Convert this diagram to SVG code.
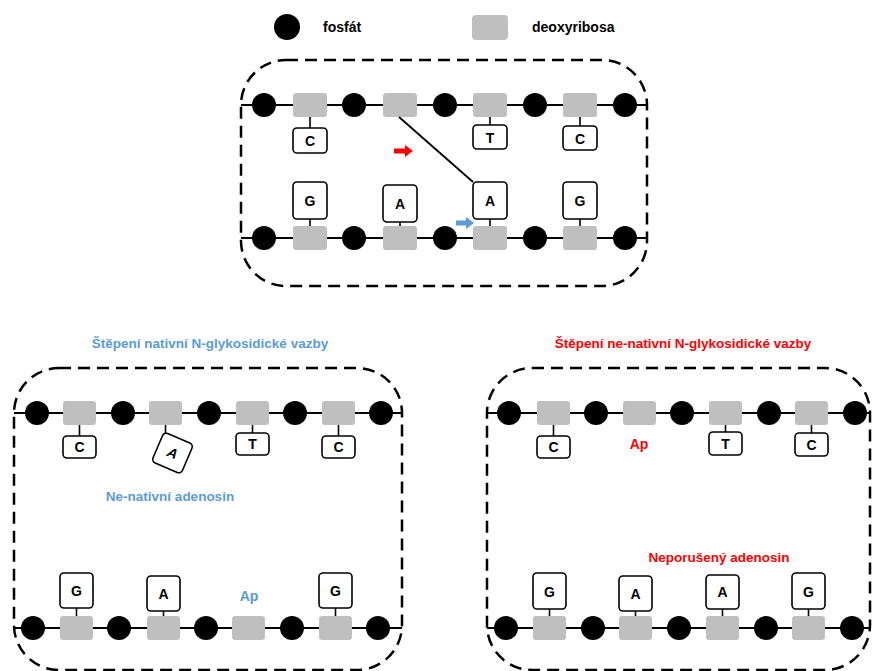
<svg xmlns="http://www.w3.org/2000/svg" width="872" height="671" viewBox="0 0 872 671">
<defs>
<style>
.frame{fill:none;stroke:#000;stroke-width:2.5;stroke-dasharray:12 7}
.strand{stroke:#000;stroke-width:2;fill:none}
.p{fill:#000}
.s{fill:#BFBFBF}
.b{fill:#fff;stroke:#000;stroke-width:1.6}
.stem{stroke:#000;stroke-width:1.6}
.t{font-family:"Liberation Sans",Arial,sans-serif;font-weight:bold;font-size:14px;text-anchor:middle;fill:#000}
.h{font-size:13.5px}
.lg{font-family:"Liberation Sans",Arial,sans-serif;font-weight:bold;font-size:14px;fill:#000}
.blue{fill:#5B9BD5}
.red{fill:#FF0000}
</style>
</defs>

<g id="legend">
<circle class="p" cx="287" cy="27" r="13"/>
<text class="lg" x="323" y="32">fosfát</text>
<rect class="s" x="472" y="15" width="36" height="25" rx="4"/>
<text class="lg" x="532" y="32">deoxyribosa</text>
</g>

<!-- Top panel -->
<g id="panel-top">
<rect class="frame" x="241" y="60" width="406" height="226" rx="45"/>
<line class="strand" x1="241" y1="105" x2="647" y2="105"/>
<line class="strand" x1="241" y1="238" x2="647" y2="238"/>
<g id="top-strand1">
<circle class="p" cx="264" cy="105" r="12"/>
<circle class="p" cx="354" cy="105" r="12"/>
<circle class="p" cx="445" cy="105" r="12"/>
<circle class="p" cx="535" cy="105" r="12"/>
<circle class="p" cx="625" cy="105" r="12"/>
<rect class="s" x="293" y="93" width="34" height="24" rx="3"/>
<rect class="s" x="383" y="93" width="34" height="24" rx="3"/>
<rect class="s" x="473" y="93" width="34" height="24" rx="3"/>
<rect class="s" x="563" y="93" width="34" height="24" rx="3"/>
</g>
<g id="top-strand2">
<circle class="p" cx="264" cy="238" r="12"/>
<circle class="p" cx="354" cy="238" r="12"/>
<circle class="p" cx="445" cy="238" r="12"/>
<circle class="p" cx="535" cy="238" r="12"/>
<circle class="p" cx="625" cy="238" r="12"/>
<rect class="s" x="293" y="226" width="34" height="24" rx="3"/>
<rect class="s" x="383" y="226" width="34" height="24" rx="3"/>
<rect class="s" x="473" y="226" width="34" height="24" rx="3"/>
<rect class="s" x="563" y="226" width="34" height="24" rx="3"/>
</g>
<g id="top-bases1">
<line class="stem" x1="310" y1="117" x2="310" y2="128"/>
<rect class="b" x="293" y="128" width="34" height="25" rx="4"/>
<text class="t" x="310" y="146">C</text>
<line class="stem" x1="490" y1="117" x2="490" y2="125"/>
<rect class="b" x="473" y="125" width="34" height="24" rx="4"/>
<text class="t" x="490" y="142.5">T</text>
<line class="stem" x1="580" y1="117" x2="580" y2="126"/>
<rect class="b" x="563" y="126" width="34" height="24" rx="4"/>
<text class="t" x="580" y="143.5">C</text>
</g>
<g id="top-bases2">
<line class="stem" x1="310" y1="219" x2="310" y2="226"/>
<rect class="b" x="293" y="182" width="34" height="37" rx="4"/>
<text class="t" x="310" y="205.5">G</text>
<line class="stem" x1="400" y1="222" x2="400" y2="226"/>
<rect class="b" x="383" y="185" width="34" height="37" rx="4"/>
<text class="t" x="400" y="208.5">A</text>
<line class="stem" x1="490" y1="219" x2="490" y2="226"/>
<rect class="b" x="473" y="182" width="34" height="37" rx="4"/>
<text class="t" x="490" y="205.5">A</text>
<line class="stem" x1="580" y1="219" x2="580" y2="226"/>
<rect class="b" x="563" y="182" width="34" height="37" rx="4"/>
<text class="t" x="580" y="205.5">G</text>
</g>
</g>

<g id="connectors">
<line x1="399" y1="117" x2="473" y2="182" stroke="#000" stroke-width="1.8"/>
<polygon class="red" points="394,148.5 405,148.5 405,145 413,151 405,157 405,153.5 394,153.5"/>
<polygon class="blue" points="456,220.5 466,220.5 466,217 474,223 466,229 466,225.5 456,225.5"/>
</g>

<!-- Bottom-left panel -->
<g id="panel-left">
<text class="t h blue" x="210" y="348">Štěpení nativní N-glykosidické vazby</text>
<rect class="frame" x="14" y="368" width="388" height="302" rx="45"/>
<line class="strand" x1="14" y1="413" x2="402" y2="413"/>
<line class="strand" x1="14" y1="628" x2="402" y2="628"/>
<g id="left-strand1">
<circle class="p" cx="37" cy="413" r="12"/>
<circle class="p" cx="123" cy="413" r="12"/>
<circle class="p" cx="209" cy="413" r="12"/>
<circle class="p" cx="295" cy="413" r="12"/>
<circle class="p" cx="381" cy="413" r="12"/>
<rect class="s" x="63" y="401" width="33" height="24" rx="3"/>
<rect class="s" x="149" y="401" width="33" height="24" rx="3"/>
<rect class="s" x="236" y="401" width="33" height="24" rx="3"/>
<rect class="s" x="322" y="401" width="33" height="24" rx="3"/>
</g>
<g id="left-bases1">
<line class="stem" x1="79.5" y1="425" x2="79.5" y2="436"/>
<rect class="b" x="63" y="436" width="33" height="22" rx="4"/>
<text class="t" x="79.5" y="452">C</text>
<line class="stem" x1="165.5" y1="425" x2="165.5" y2="433"/>
<g transform="translate(172.5 453) rotate(23)">
<rect class="b" x="-16" y="-16" width="32" height="32" rx="4"/>
<text class="t" x="0" y="5" font-style="italic">A</text>
</g>
<line class="stem" x1="252.5" y1="425" x2="252.5" y2="433"/>
<rect class="b" x="236" y="433" width="33" height="22" rx="4"/>
<text class="t" x="252.5" y="449">T</text>
<line class="stem" x1="338.5" y1="425" x2="338.5" y2="436"/>
<rect class="b" x="322" y="436" width="33" height="22" rx="4"/>
<text class="t" x="338.5" y="452">C</text>
</g>
<text class="t h blue" x="170" y="501">Ne-nativní adenosin</text>
<g id="left-strand2">
<circle class="p" cx="33" cy="628" r="12"/>
<circle class="p" cx="119" cy="628" r="12"/>
<circle class="p" cx="206" cy="628" r="12"/>
<circle class="p" cx="292" cy="628" r="12"/>
<circle class="p" cx="378" cy="628" r="12"/>
<rect class="s" x="60" y="616" width="33" height="24" rx="3"/>
<rect class="s" x="147" y="616" width="33" height="24" rx="3"/>
<rect class="s" x="232" y="616" width="33" height="24" rx="3"/>
<rect class="s" x="319" y="616" width="33" height="24" rx="3"/>
</g>
<g id="left-bases2">
<line class="stem" x1="76.5" y1="608" x2="76.5" y2="616"/>
<rect class="b" x="60" y="573" width="33" height="35" rx="4"/>
<text class="t" x="76.5" y="595.5">G</text>
<line class="stem" x1="163.5" y1="611" x2="163.5" y2="616"/>
<rect class="b" x="147" y="576" width="33" height="35" rx="4"/>
<text class="t" x="163.5" y="598.5">A</text>
<text class="t blue" x="249" y="601">Ap</text>
<line class="stem" x1="335.5" y1="608" x2="335.5" y2="616"/>
<rect class="b" x="319" y="573" width="33" height="35" rx="4"/>
<text class="t" x="335.5" y="595.5">G</text>
</g>
</g>

<!-- Bottom-right panel -->
<g id="panel-right">
<text class="t h red" x="683" y="348">Štěpení ne-nativní N-glykosidické vazby</text>
<rect class="frame" x="487" y="368" width="383" height="302" rx="45"/>
<line class="strand" x1="487" y1="413" x2="870" y2="413"/>
<line class="strand" x1="487" y1="628" x2="870" y2="628"/>
<g id="right-strand1">
<circle class="p" cx="509" cy="413" r="12"/>
<circle class="p" cx="596" cy="413" r="12"/>
<circle class="p" cx="682" cy="413" r="12"/>
<circle class="p" cx="769" cy="413" r="12"/>
<circle class="p" cx="855" cy="413" r="12"/>
<rect class="s" x="537" y="401" width="33" height="24" rx="3"/>
<rect class="s" x="623" y="401" width="33" height="24" rx="3"/>
<rect class="s" x="709" y="401" width="33" height="24" rx="3"/>
<rect class="s" x="795" y="401" width="33" height="24" rx="3"/>
</g>
<g id="right-bases1">
<line class="stem" x1="553.5" y1="425" x2="553.5" y2="436"/>
<rect class="b" x="537" y="436" width="33" height="22" rx="4"/>
<text class="t" x="553.5" y="452">C</text>
<text class="t red" x="639" y="449">Ap</text>
<line class="stem" x1="725.5" y1="425" x2="725.5" y2="432"/>
<rect class="b" x="709" y="432" width="33" height="23" rx="4"/>
<text class="t" x="725.5" y="448.5">T</text>
<line class="stem" x1="811.5" y1="425" x2="811.5" y2="433"/>
<rect class="b" x="795" y="433" width="33" height="23" rx="4"/>
<text class="t" x="811.5" y="449.5">C</text>
</g>
<text class="t h red" x="719" y="562">Neporušený adenosin</text>
<g id="right-strand2">
<circle class="p" cx="506" cy="628" r="12"/>
<circle class="p" cx="593" cy="628" r="12"/>
<circle class="p" cx="679" cy="628" r="12"/>
<circle class="p" cx="766" cy="628" r="12"/>
<circle class="p" cx="852" cy="628" r="12"/>
<rect class="s" x="533" y="616" width="33" height="24" rx="3"/>
<rect class="s" x="619" y="616" width="33" height="24" rx="3"/>
<rect class="s" x="706" y="616" width="33" height="24" rx="3"/>
<rect class="s" x="792" y="616" width="33" height="24" rx="3"/>
</g>
<g id="right-bases2">
<line class="stem" x1="549.5" y1="609" x2="549.5" y2="616"/>
<rect class="b" x="533" y="573" width="33" height="36" rx="4"/>
<text class="t" x="549.5" y="596.5">G</text>
<line class="stem" x1="635.5" y1="611" x2="635.5" y2="616"/>
<rect class="b" x="619" y="576" width="33" height="35" rx="4"/>
<text class="t" x="635.5" y="598.5">A</text>
<line class="stem" x1="722.5" y1="609" x2="722.5" y2="616"/>
<rect class="b" x="706" y="575" width="33" height="34" rx="4"/>
<text class="t" x="722.5" y="597">A</text>
<line class="stem" x1="808.5" y1="609" x2="808.5" y2="616"/>
<rect class="b" x="792" y="573" width="33" height="36" rx="4"/>
<text class="t" x="808.5" y="596.5">G</text>
</g>
</g>
</svg>
